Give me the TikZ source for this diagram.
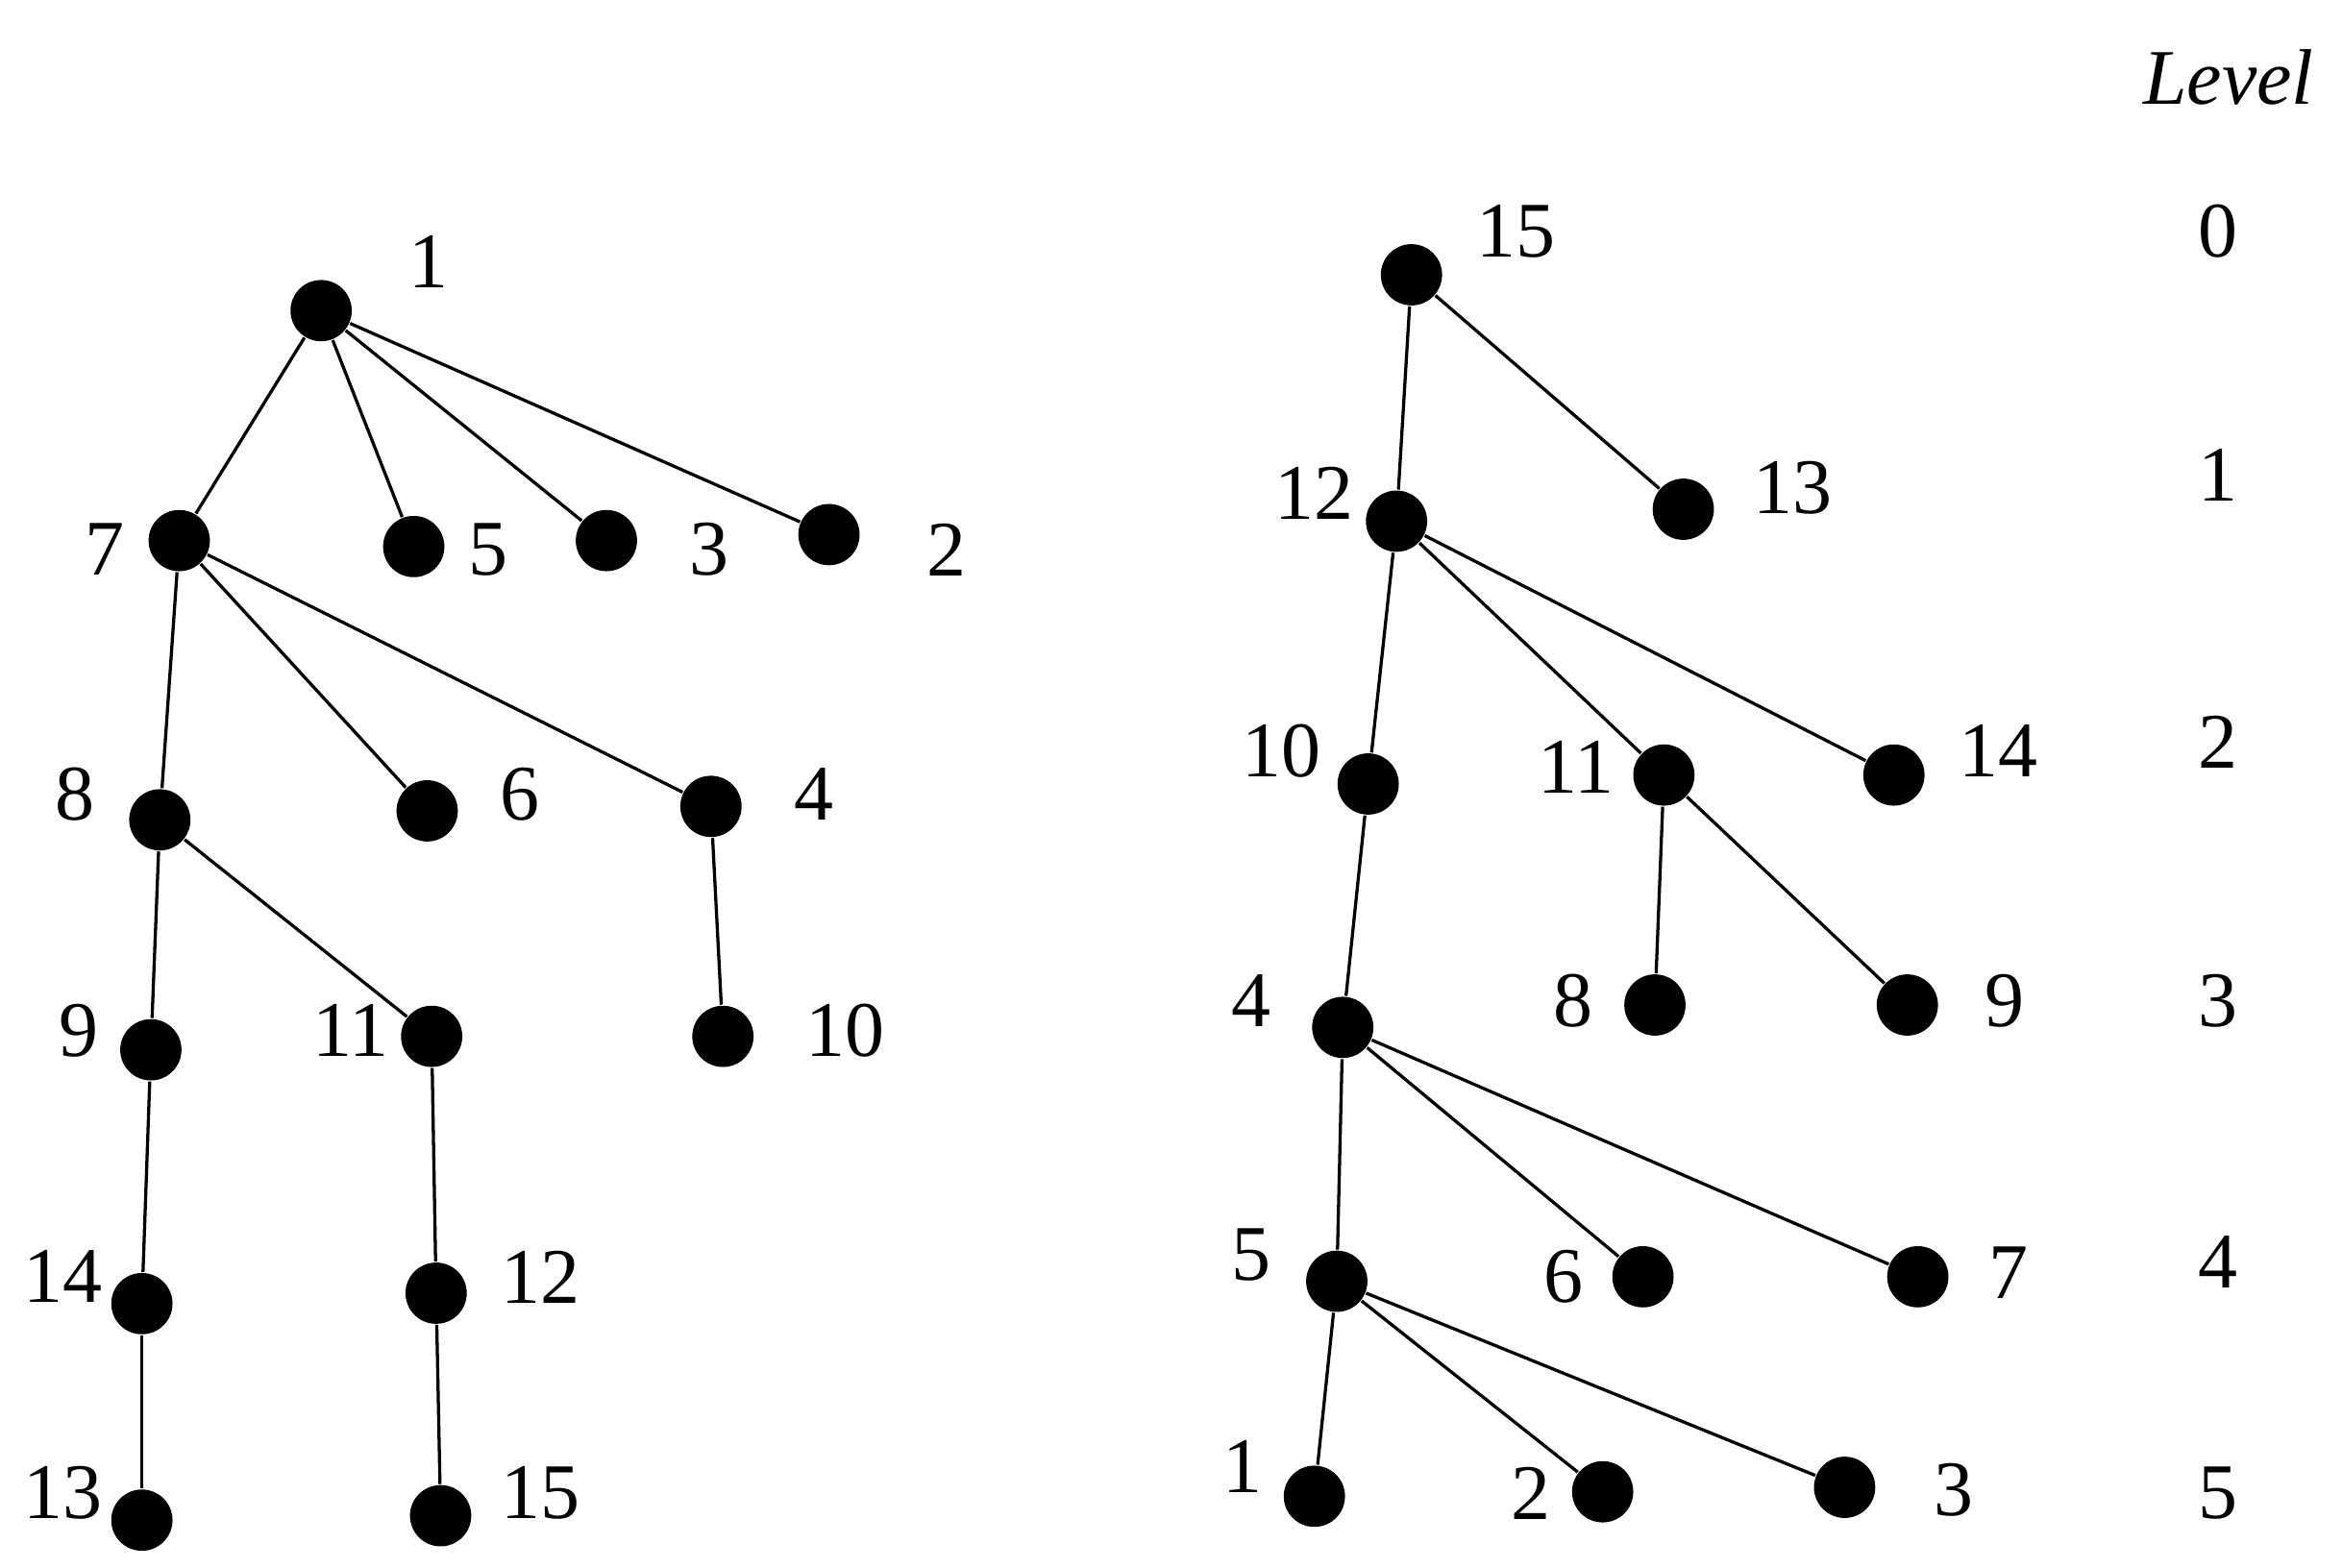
\documentclass[tikz,border=0pt]{standalone}
\usepackage{fontspec}
\setmainfont{Liberation Serif}
\begin{document}
\begin{tikzpicture}[x=0.01cm,y=-0.01cm,
  dot/.style={circle,fill=black,inner sep=0pt,minimum size=0.41cm},
  lbl/.style={inner sep=0pt,font=\fontsize{15}{18}\selectfont},
  edge/.style={line width=0.6pt}]
\useasboundingbox (0,0) rectangle (1568,1050);
% ---------- left tree ----------
\node[dot] (a1) at (215,208) {};
\node[dot] (a7) at (120,362) {};
\node[dot] (a5) at (277,366) {};
\node[dot] (a3) at (406,362) {};
\node[dot] (a2) at (555,358) {};
\node[dot] (a8) at (107,549) {};
\node[dot] (a6) at (286,543) {};
\node[dot] (a4) at (476,540) {};
\node[dot] (a9) at (101,703) {};
\node[dot] (a11) at (289,694) {};
\node[dot] (a10) at (484,694) {};
\node[dot] (a14) at (95,873) {};
\node[dot] (a12) at (292,866) {};
\node[dot] (a13) at (95,1018) {};
\node[dot] (a15) at (295,1015) {};
\foreach \p/\c in {a1/a7,a1/a5,a1/a3,a1/a2,a7/a8,a7/a6,a7/a4,a8/a9,a8/a11,a4/a10,a9/a14,a14/a13,a11/a12,a12/a15}
  \draw[edge] (\p) -- (\c);
\node[lbl] (la1) at (287,175) {1};
\node[lbl] (la7) at (70,368) {7};
\node[lbl] (la5) at (327,368) {5};
\node[lbl] (la3) at (475,368) {3};
\node[lbl] (la2) at (634,368) {2};
\node[lbl] (la8) at (50,532) {8};
\node[lbl] (la6) at (348,532) {6};
\node[lbl] (la4) at (545,532) {4};
\node[lbl] (la9) at (53,690) {9};
\node[lbl] (la11) at (235,690) {11};
\node[lbl] (la10) at (566,690) {10};
\node[lbl] (la14) at (42,855) {14};
\node[lbl] (la12) at (362,855) {12};
\node[lbl] (la13) at (42,1000) {13};
\node[lbl] (la15) at (362,1000) {15};
% ---------- right tree ----------
\node[dot] (b15) at (945,184) {};
\node[dot] (b13) at (1127,341) {};
\node[dot] (b12) at (935,349) {};
\node[dot] (b10) at (916,525) {};
\node[dot] (b11) at (1114,519) {};
\node[dot] (b14) at (1268,519) {};
\node[dot] (b4) at (899,688) {};
\node[dot] (b8) at (1108,673) {};
\node[dot] (b9) at (1277,673) {};
\node[dot] (b5) at (895,858) {};
\node[dot] (b6) at (1100,855) {};
\node[dot] (b7) at (1284,855) {};
\node[dot] (b1) at (880,1002) {};
\node[dot] (b2) at (1073,999) {};
\node[dot] (b3) at (1235,996) {};
\foreach \p/\c in {b15/b12,b15/b13,b12/b10,b12/b11,b12/b14,b11/b8,b11/b9,b10/b4,b4/b5,b4/b6,b4/b7,b5/b1,b5/b2,b5/b3}
  \draw[edge] (\p) -- (\c);
\node[lbl] (lb15) at (1015,155) {15};
\node[lbl] (lb13) at (1200,327) {13};
\node[lbl] (lb12) at (880,330) {12};
\node[lbl] (lb10) at (858,503) {10};
\node[lbl] (lb11) at (1055,514) {11};
\node[lbl] (lb14) at (1338,503) {14};
\node[lbl] (lb4) at (838,670) {4};
\node[lbl] (lb8) at (1053,670) {8};
\node[lbl] (lb9) at (1342,670) {9};
\node[lbl] (lb5) at (838,840) {5};
\node[lbl] (lb6) at (1047,855) {6};
\node[lbl] (lb7) at (1345,852) {7};
\node[lbl] (lb1) at (832,982) {1};
\node[lbl] (lb2) at (1025,1000) {2};
\node[lbl] (lb3) at (1308,998) {3};
% ---------- levels ----------
\node[lbl,font=\fontsize{15}{18}\selectfont\itshape] (lev) at (1492,52) {Level};
\node[lbl] (l0) at (1485,155) {0};
\node[lbl] (l1) at (1485,318) {1};
\node[lbl] (l2) at (1485,497) {2};
\node[lbl] (l3) at (1485,670) {3};
\node[lbl] (l4) at (1485,845) {4};
\node[lbl] (l5) at (1485,1000) {5};
\end{tikzpicture}
\end{document}
